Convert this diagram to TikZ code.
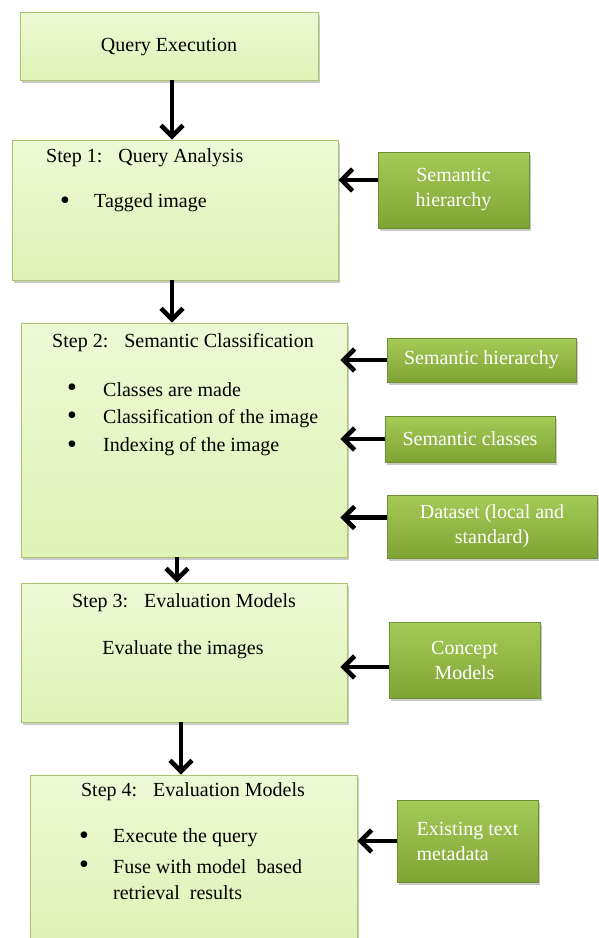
\documentclass[tikz,border=0pt]{standalone}
\usepackage{fontspec}
\setmainfont{Liberation Serif}
\usetikzlibrary{arrows.meta,shadows}

\definecolor{steptop}{HTML}{EDF9D5}
\definecolor{stepbottom}{HTML}{E0F2B6}
\definecolor{stepline}{HTML}{A9C46C}
\definecolor{srctop}{HTML}{A4CA58}
\definecolor{srcbottom}{HTML}{7FA434}
\definecolor{srcline}{HTML}{6F9030}

\tikzset{
  stepbox/.style={draw=stepline, line width=0.8pt, top color=steptop, bottom color=stepbottom,
    drop shadow={shadow xshift=2pt, shadow yshift=-2.5pt, opacity=0.35, fill=black!60},
    inner sep=0pt},
  srcbox/.style={draw=srcline, line width=0.6pt, top color=srctop, bottom color=srcbottom,
    drop shadow={shadow xshift=2pt, shadow yshift=-2.5pt, opacity=0.35, fill=black!60},
    text=white, align=center, inner sep=0pt, font=\fontsize{20}{25}\selectfont},
  steptext/.style={inner sep=0pt, font=\fontsize{20}{24}\selectfont},
  dottext/.style={inner sep=0pt, font=\fontsize{28}{28}\selectfont},
  flow/.style={line width=4.5pt, -{Straight Barb[length=11pt,width=22pt,line width=4.5pt]}}
}

\begin{document}
\begin{tikzpicture}[x=1pt,y=-1pt]
  \useasboundingbox (0,0) rectangle (599,938);

  % Drawing the step boxes
  \node [stepbox, minimum width=298, minimum height=68] (qe) at (169.0,46.0) {};
  \node [stepbox, minimum width=326, minimum height=140] (s1) at (175.0,210.0) {};
  \node [stepbox, minimum width=326, minimum height=234] (s2) at (184.0,440.0) {};
  \node [stepbox, minimum width=326, minimum height=139] (s3) at (184.0,652.5) {};
  \node [stepbox, minimum width=327, minimum height=163] (s4) at (193.5,856.5) {};

  % Drawing the source boxes
  \node [srcbox, minimum width=151, minimum height=76] (hier1) at (453.5,190.0) {Semantic\\hierarchy};
  \node [srcbox, minimum width=189, minimum height=44] (hier2) at (481.5,360.0) {Semantic hierarchy};
  \node [srcbox, minimum width=170, minimum height=46] (classes) at (470.0,439.0) {Semantic classes};
  \node [srcbox, minimum width=210, minimum height=63] (dataset) at (492.0,526.5) {Dataset (local and\\standard)};
  \node [srcbox, minimum width=151, minimum height=76] (concept) at (464.5,660.0) {Concept\\Models};
  \node [srcbox, minimum width=141, minimum height=82, align=left] (metadata) at (467.5,841.0) {Existing text\\metadata};

  % Marking texts of step Query Execution
  \node [steptext] (qetitle) at (169.0,47.0) {Query Execution};

  % Marking texts of step 1
  \node [steptext, anchor=west] (s1title) at (46.0,158.0) {Step 1:\hspace{0.8em}Query Analysis};
  \node [dottext] (s1dot) at (65.0,203.0) {•};
  \node [steptext, anchor=west] (s1item) at (94.0,203.0) {Tagged image};

  % Marking texts of step 2
  \node [steptext] (s2title) at (183.0,343.0) {Step 2:\hspace{0.8em}Semantic Classification};
  \node [dottext] (s2dota) at (72.0,390.0) {•};
  \node [steptext, anchor=west] (s2itema) at (103.0,390.0) {Classes are made};
  \node [dottext] (s2dotb) at (72.0,418.5) {•};
  \node [steptext, anchor=west] (s2itemb) at (103.0,418.5) {Classification of the image};
  \node [dottext] (s2dotc) at (72.0,447.0) {•};
  \node [steptext, anchor=west] (s2itemc) at (103.0,447.0) {Indexing of the image};

  % Marking texts of step 3
  \node [steptext] (s3title) at (184.0,603.0) {Step 3:\hspace{0.8em}Evaluation Models};
  \node [steptext] (s3item) at (183.0,650.0) {Evaluate the images};

  % Marking texts of step 4
  \node [steptext] (s4title) at (193.0,792.0) {Step 4:\hspace{0.8em}Evaluation Models};
  \node [dottext] (s4dota) at (84.0,838.0) {•};
  \node [steptext, anchor=west] (s4itema) at (113.0,838.0) {Execute the query};
  \node [dottext] (s4dotb) at (84.0,867.0) {•};
  \node [steptext, anchor=west] (s4itemb) at (113.0,867.0) {Fuse with model\hspace{0.5em}based};
  \node [steptext, anchor=west] (s4itemc) at (113.0,893.0) {retrieval\hspace{0.5em}results};

  % Drawing the flow down
  \draw [flow] ([xshift=3pt]qe.south) -- ([xshift=3pt]qe.south |- s1.north);
  \draw [flow] ([xshift=-3pt]s1.south) -- ([xshift=-3pt]s1.south |- s2.north);
  \draw [flow] ([xshift=-7pt]s2.south) -- ([xshift=-7pt]s2.south |- s3.north);
  \draw [flow] ([xshift=-3pt]s3.south) -- ([xshift=-3pt]s3.south |- s4.north);

  % Drawing the inputs from the sources
  \draw [flow] ([yshift=10pt]hier1.west) -- ([yshift=10pt]hier1.west -| s1.east);
  \draw [flow] (hier2.west) -- ([xshift=-7pt]hier2.west -| s2.east);
  \draw [flow] (classes.west) -- ([xshift=-7pt]classes.west -| s2.east);
  \draw [flow] ([yshift=9pt]dataset.west) -- ([yshift=9pt,xshift=-7pt]dataset.west -| s2.east);
  \draw [flow] ([yshift=-7pt]concept.west) -- ([yshift=-7pt,xshift=-7pt]concept.west -| s3.east);
  \draw [flow] (metadata.west) -- (metadata.west -| s4.east);
\end{tikzpicture}
\end{document}
